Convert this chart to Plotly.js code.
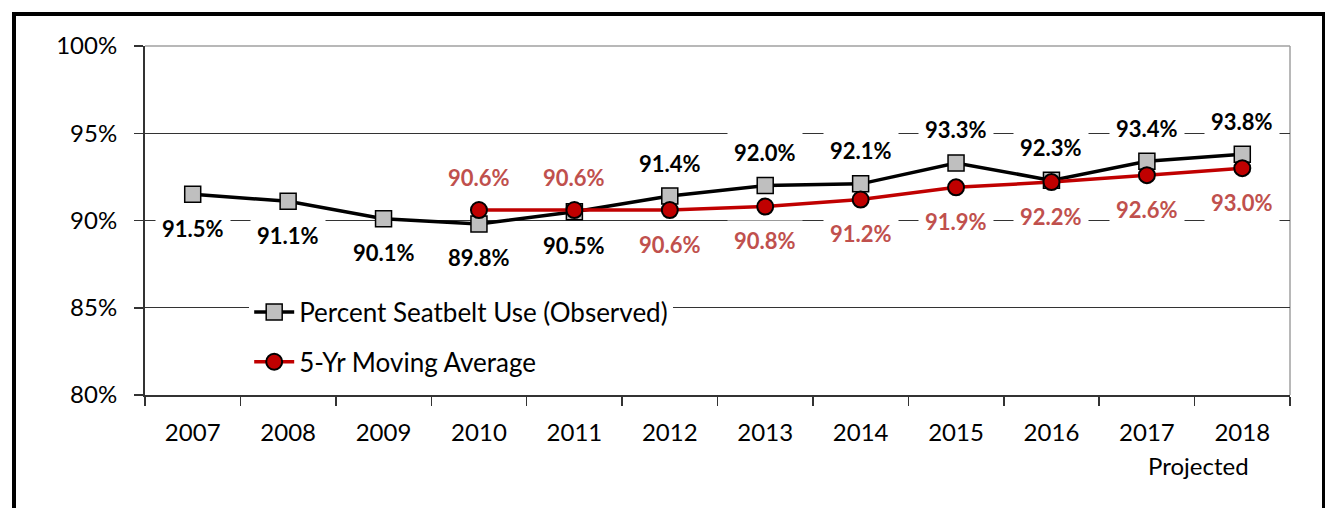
<!DOCTYPE html>
<html>
<head>
<meta charset="utf-8">
<script src="https://cdn.plot.ly/plotly-3.0.1.min.js"></script>
<style>
html,body{margin:0;padding:0;background:#fff;}
#wrap{position:relative;width:1325px;height:508px;overflow:hidden;}
#chart{position:absolute;left:0;top:0;width:1325px;height:508px;}
#frame{position:absolute;left:12px;top:12px;width:1306px;height:540px;border:4px solid #000;pointer-events:none;}
</style>
</head>
<body>
<div id="wrap"><div id="chart"></div><div id="frame"></div></div>
<script>
// Data
const years = ['2007','2008','2009','2010','2011','2012','2013','2014','2015','2016','2017','2018'];
const tickLabels = ['2007','2008','2009','2010','2011','2012','2013','2014','2015','2016','2017','2018'];
const projectedNote = 'Projected';
const observed = [91.5, 91.1, 90.1, 89.8, 90.5, 91.4, 92.0, 92.1, 93.3, 92.3, 93.4, 93.8];
const movingAvg = [null, null, null, 90.6, 90.6, 90.6, 90.8, 91.2, 91.9, 92.2, 92.6, 93.0];
const seriesNames = ['Percent Seatbelt Use (Observed)', '5-Yr Moving Average'];

// Label placement (style config)
const obsSide = ['b','b','b','b','b','a','a','a','a','a','a','a'];
const avgSide = ['','','','a','a','b','b','b','b','b','b','b'];

const FONT = 'Lato, "Open Sans", sans-serif';

const traces = [
  {
    x: years, y: observed, name: seriesNames[0], type: 'scatter', mode: 'lines+markers',
    line: {color: '#000000', width: 3.5},
    marker: {symbol: 'square', size: 16, color: '#bfbfbf', line: {color: '#000', width: 1.5}},
    legendgroup: 'g1', cliponaxis: false
  },
  {
    x: years, y: movingAvg, name: seriesNames[1], type: 'scatter', mode: 'lines+markers',
    line: {color: '#c00000', width: 3.5},
    marker: {symbol: 'circle', size: 16, color: '#c00000', line: {color: '#000', width: 2}},
    legendgroup: 'g2', cliponaxis: false, connectgaps: false
  }
];

const annotations = [];
function addLabels(vals, sides, color) {
  vals.forEach((v, i) => {
    if (v === null) return;
    annotations.push({
      x: i, y: v, xref: 'x', yref: 'y',
      text: '<b>' + v.toFixed(1) + '%</b>',
      showarrow: false,
      yshift: sides[i] === 'a' ? 33 : -34,
      bgcolor: '#ffffff', borderpad: 6,
      font: {family: FONT, size: 22, color: color}
    });
  });
}
addLabels(observed, obsSide, '#000000');
addLabels(movingAvg, avgSide, '#c0504d');

// "Projected" note under the last category
annotations.push({
  x: years.length - 1, y: 0, xref: 'x', yref: 'paper',
  text: projectedNote, showarrow: false, xanchor: 'center', yanchor: 'middle',
  xshift: -44, yshift: -70,
  font: {family: FONT, size: 24, color: '#000'}
});

const layout = {
  width: 1325, height: 508,
  margin: {l: 145, r: 35, t: 46, b: 113},
  paper_bgcolor: '#ffffff', plot_bgcolor: '#ffffff',
  font: {family: FONT, size: 24, color: '#000'},
  showlegend: true,
  legend: {
    x: 0.091, y: 0.305, xanchor: 'left', yanchor: 'top',
    bgcolor: '#ffffff', font: {family: FONT, size: 26, color: '#000'},
    traceorder: 'grouped', tracegroupgap: 13, itemwidth: 40
  },
  xaxis: {
    type: 'category', range: [-0.5, years.length - 0.5], autorange: false,
    tickmode: 'array', tickvals: years, ticktext: tickLabels,
    tickson: 'boundaries', ticks: 'outside', ticklen: 9, tickcolor: '#333', tickwidth: 1.5,
    showline: true, linecolor: '#333', linewidth: 2, showgrid: false,
    tickfont: {family: FONT, size: 24, color: '#000'}, tickangle: 0,
    ticklabelstandoff: 15, fixedrange: true
  },
  yaxis: {
    range: [80, 100], autorange: false, dtick: 5, tick0: 80, ticksuffix: '%',
    ticks: 'outside', ticklen: 9, tickcolor: '#333', tickwidth: 1.5,
    showline: true, linecolor: '#333', linewidth: 2,
    showgrid: true, gridcolor: '#333', gridwidth: 1,
    tickfont: {family: FONT, size: 24, color: '#000'},
    ticklabelstandoff: 12, zeroline: false, fixedrange: true
  },
  shapes: [
    {type: 'line', xref: 'paper', yref: 'paper', x0: 0, x1: 1, y0: 1, y1: 1, line: {color: '#a0a0a0', width: 1.5}, layer: 'below'},
    {type: 'line', xref: 'paper', yref: 'paper', x0: 1, x1: 1, y0: 0, y1: 1, line: {color: '#a0a0a0', width: 1.5}, layer: 'below'}
  ],
  annotations: annotations
};

Plotly.newPlot('chart', traces, layout, {displayModeBar: false, staticPlot: true});
</script>
</body>
</html>
